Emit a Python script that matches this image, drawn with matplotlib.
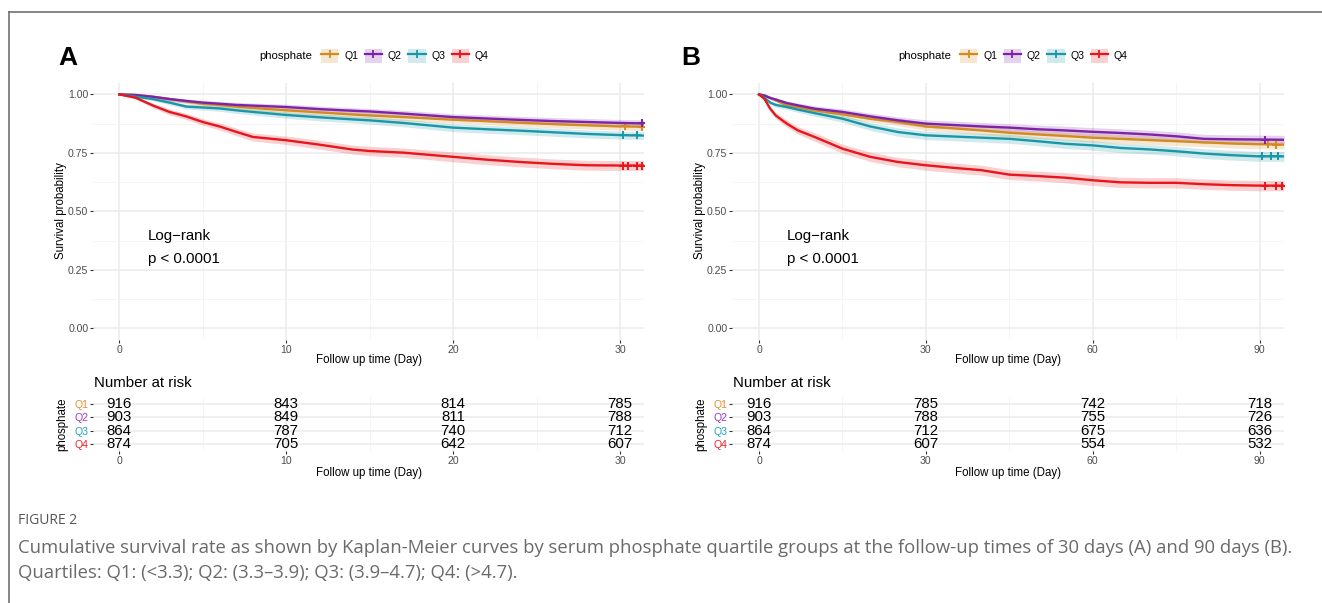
import numpy as np
import matplotlib
matplotlib.use("Agg")
import matplotlib.pyplot as plt
from matplotlib.patches import Patch
from matplotlib.lines import Line2D

plt.rcParams["font.family"] = ["Liberation Sans", "DejaVu Sans"]

W, H = 1322, 603

groups = ["Q1", "Q2", "Q3", "Q4"]
line_colors = ["#D18B1F", "#7E22A8", "#1A97A6", "#E8161C"]
label_colors = ["#E0902E", "#9A3BC0", "#1EA8B8", "#F0242B"]

# panel A: 30 day follow-up
a_time = [0, 1, 2, 3, 4, 5, 6, 7, 8, 10, 12, 14, 15, 17, 20, 22, 24, 26, 28, 30, 31.4]
a_surv = {
    "Q1": [1.0, 0.998, 0.99, 0.98, 0.97, 0.96, 0.955, 0.948, 0.942, 0.932, 0.923, 0.914, 0.91,
           0.903, 0.892, 0.886, 0.879, 0.873, 0.868, 0.863, 0.862],
    "Q2": [1.0, 0.997, 0.99, 0.98, 0.972, 0.965, 0.96, 0.955, 0.952, 0.946, 0.937, 0.93, 0.927,
           0.918, 0.903, 0.897, 0.891, 0.886, 0.882, 0.878, 0.876],
    "Q3": [1.0, 0.99, 0.98, 0.965, 0.948, 0.944, 0.94, 0.932, 0.925, 0.912, 0.902, 0.893, 0.889,
           0.878, 0.858, 0.851, 0.845, 0.838, 0.831, 0.826, 0.824],
    "Q4": [1.0, 0.985, 0.953, 0.925, 0.906, 0.882, 0.863, 0.84, 0.818, 0.804, 0.785, 0.764, 0.758,
           0.751, 0.733, 0.721, 0.711, 0.703, 0.697, 0.696, 0.696],
}
a_ci = {
    "Q1": [0, 0.004, 0.006, 0.008, 0.009, 0.010, 0.011, 0.012, 0.012, 0.013, 0.013, 0.014, 0.014,
           0.015, 0.015, 0.015, 0.016, 0.016, 0.016, 0.016, 0.016],
    "Q2": [0, 0.004, 0.006, 0.008, 0.009, 0.009, 0.010, 0.011, 0.011, 0.012, 0.013, 0.013, 0.013,
           0.014, 0.014, 0.015, 0.015, 0.015, 0.015, 0.015, 0.015],
    "Q3": [0, 0.005, 0.007, 0.009, 0.010, 0.011, 0.012, 0.013, 0.013, 0.014, 0.015, 0.015, 0.016,
           0.016, 0.017, 0.017, 0.017, 0.017, 0.017, 0.017, 0.017],
    "Q4": [0, 0.005, 0.010, 0.012, 0.013, 0.014, 0.015, 0.016, 0.017, 0.018, 0.019, 0.019, 0.020,
           0.020, 0.021, 0.021, 0.021, 0.021, 0.021, 0.021, 0.021],
}
a_censor = {"Q1": [30.3, 31.3], "Q2": [31.3], "Q3": [30.2, 31.0], "Q4": [30.2, 30.5, 31.0, 31.3]}
a_ticks = [0, 10, 20, 30]
a_minor = [5, 15, 25]
a_risk = {"Q1": [916, 843, 814, 785], "Q2": [903, 849, 811, 788],
          "Q3": [864, 787, 740, 712], "Q4": [874, 705, 642, 607]}

# panel B: 90 day follow-up
b_time = [0, 1, 2, 3, 5, 7, 10, 15, 20, 25, 30, 35, 40, 45, 50, 55, 60, 65, 70, 75, 80, 85, 90, 94.4]
b_surv = {
    "Q1": [1.0, 0.995, 0.985, 0.975, 0.953, 0.945, 0.932, 0.915, 0.896, 0.882, 0.863, 0.855, 0.846,
           0.836, 0.829, 0.822, 0.815, 0.81, 0.805, 0.8, 0.795, 0.79, 0.787, 0.785],
    "Q2": [1.0, 0.995, 0.985, 0.978, 0.963, 0.953, 0.939, 0.925, 0.906, 0.889, 0.875, 0.869, 0.863,
           0.858, 0.851, 0.846, 0.84, 0.835, 0.829, 0.821, 0.81, 0.808, 0.807, 0.806],
    "Q3": [1.0, 0.985, 0.965, 0.955, 0.946, 0.935, 0.92, 0.896, 0.863, 0.839, 0.825, 0.82, 0.815,
           0.81, 0.8, 0.789, 0.782, 0.771, 0.765, 0.757, 0.747, 0.74, 0.735, 0.735],
    "Q4": [1.0, 0.98, 0.939, 0.91, 0.875, 0.846, 0.818, 0.768, 0.733, 0.711, 0.697, 0.686, 0.676,
           0.657, 0.651, 0.644, 0.633, 0.624, 0.622, 0.622, 0.616, 0.612, 0.61, 0.61],
}
b_ci = {
    "Q1": [0, 0.004, 0.006, 0.008, 0.010, 0.011, 0.013, 0.014, 0.015, 0.016, 0.017, 0.017, 0.018,
           0.018, 0.018, 0.018, 0.019, 0.019, 0.019, 0.019, 0.019, 0.019, 0.019, 0.019],
    "Q2": [0, 0.004, 0.006, 0.008, 0.009, 0.010, 0.012, 0.013, 0.014, 0.015, 0.016, 0.017, 0.017,
           0.017, 0.018, 0.018, 0.018, 0.018, 0.018, 0.019, 0.019, 0.019, 0.019, 0.019],
    "Q3": [0, 0.005, 0.008, 0.009, 0.010, 0.012, 0.013, 0.015, 0.017, 0.018, 0.018, 0.018, 0.019,
           0.019, 0.019, 0.020, 0.020, 0.020, 0.020, 0.020, 0.021, 0.021, 0.021, 0.021],
    "Q4": [0, 0.006, 0.010, 0.013, 0.015, 0.016, 0.018, 0.019, 0.020, 0.020, 0.021, 0.021, 0.021,
           0.021, 0.021, 0.022, 0.022, 0.022, 0.022, 0.022, 0.022, 0.022, 0.022, 0.022],
}
b_censor = {"Q1": [91.5, 93.0], "Q2": [91.0], "Q3": [90.5, 92.0, 93.3], "Q4": [91.0, 93.0, 94.0]}
b_ticks = [0, 30, 60, 90]
b_minor = [15, 45, 75]
b_risk = {"Q1": [916, 785, 742, 718], "Q2": [903, 788, 755, 726],
          "Q3": [864, 712, 675, 636], "Q4": [874, 607, 554, 532]}

grid_major = "#EBEBEB"
grid_minor = "#F4F4F4"
tick_col = "#4D4D4D"


def fbox(l, t, r, b):
    return [l / W, 1 - b / H, (r - l) / W, (b - t) / H]


def ftext(x, y, s, **kw):
    fig.text(x / W, 1 - y / H, s, **kw)


def style_axes(ax, ticks, minor, xlim):
    ax.set_xlim(*xlim)
    ax.set_xticks(ticks)
    ax.set_xticks(minor, minor=True)
    for sp in ax.spines.values():
        sp.set_visible(False)
    ax.grid(True, which="major", color=grid_major, lw=1.1)
    ax.grid(True, which="minor", color=grid_minor, lw=0.6)
    ax.set_axisbelow(True)
    ax.tick_params(which="major", length=2.2, width=0.8, color="#333333", pad=1.2,
                   labelsize=7.6, labelcolor=tick_col)
    ax.tick_params(which="minor", length=0)


def draw_panel(left, right, xlim, time, surv, ci, censor, ticks, minor, risk, letter, dx):
    ax = fig.add_axes(fbox(left, 82.7, right, 340))
    style_axes(ax, ticks, minor, xlim)
    ax.set_ylim(-0.05, 1.05)
    ax.set_yticks([0, 0.25, 0.5, 0.75, 1.0])
    ax.set_yticklabels(["0.00", "0.25", "0.50", "0.75", "1.00"])
    ax.set_yticks([0.125, 0.375, 0.625, 0.875], minor=True)
    t = np.array(time)
    for g, c in zip(groups, line_colors):
        s = np.array(surv[g])
        h = np.array(ci[g])
        ax.fill_between(t, s - h, s + h, color=c, alpha=0.2, lw=0)
    for g, c in zip(groups, line_colors):
        s = np.array(surv[g])
        ax.plot(t, s, color=c, lw=1.7, solid_joinstyle="round")
        ct = np.array(censor[g])
        ax.plot(ct, np.interp(ct, t, s), ls="none", marker="+", color=c, ms=6, mew=1.4)

    # log-rank text
    tx = xlim[0] + (xlim[1] - xlim[0]) * (148 + dx - left) / (right - left)
    ax.text(tx, 0.395, "Log\u2212rank", fontsize=10.8, va="center", ha="left")
    ax.text(tx, 0.295, "p < 0.0001", fontsize=10.8, va="center", ha="left")

    cx = (left + right) / 2
    ftext(cx, 360, "Follow up time (Day)", fontsize=8.3, ha="center", va="center")
    ftext(61 + dx, 211, "Survival probability", fontsize=8.3, rotation=90, ha="center", va="center")

    # legend
    ftext(259 + dx, 56, "phosphate", fontsize=8.2, ha="left", va="center")
    handles = [(Patch(facecolor=c, alpha=0.2, edgecolor="none"),
                Line2D([], [], color=c, lw=1.6, marker="+", ms=6, mew=1.3)) for c in line_colors]
    fig.legend(handles, groups, loc="center left", bbox_to_anchor=((321 + dx) / W, 1 - 56 / H),
               ncol=4, frameon=False, fontsize=7.6, borderpad=0, borderaxespad=0,
               handlelength=1.65, handleheight=1.65, handletextpad=0.55, columnspacing=0.6)

    ftext(68 + dx * 0.975, 58, letter, fontsize=19, fontweight="bold", ha="center", va="center")

    # number at risk table
    tb = fig.add_axes(fbox(left, 397.3, right, 451))
    style_axes(tb, ticks, minor, xlim)
    tb.set_ylim(3.5, -0.5)
    tb.set_yticks(range(4))
    tb.set_yticklabels(groups)
    for lab, c in zip(tb.get_yticklabels(), label_colors):
        lab.set_color(c)
    for i, g in enumerate(groups):
        for tt, n in zip(ticks, risk[g]):
            tb.text(tt, i, str(n), fontsize=10.8, ha="center", va="center")
    ftext(left + 1, 383, "Number at risk", fontsize=10.8, ha="left", va="center")
    ftext(cx, 473, "Follow up time (Day)", fontsize=8.3, ha="center", va="center")
    ftext(62 + dx, 424, "phosphate", fontsize=8.3, rotation=90, ha="center", va="center")


fig = plt.figure(figsize=(W / 100, H / 100), dpi=100)

draw_panel(93, 644, (-1.58, 31.44), a_time, a_surv, a_ci, a_censor, a_ticks, a_minor, a_risk, "A", 0)
draw_panel(732, 1284, (-4.86, 94.4), b_time, b_surv, b_ci, b_censor, b_ticks, b_minor, b_risk, "B", 639)

# outer frame (top and left rules)
fig.add_artist(Line2D([9 / W, 9 / W], [0, 1 - 12 / H], transform=fig.transFigure, color="#666666", lw=1.1))
fig.add_artist(Line2D([9 / W, 1], [1 - 12 / H, 1 - 12 / H], transform=fig.transFigure, color="#666666", lw=1.1))

# caption
cap_font = "Open Sans"
ftext(18, 521, "FIGURE 2", fontsize=10, color="#555555", family=cap_font, ha="left", va="center")
ftext(18, 548, "Cumulative survival rate as shown by Kaplan-Meier curves by serum phosphate quartile "
      "groups at the follow-up times of 30 days (A) and 90 days (B).",
      fontsize=13.3, color="#6A6A6A", family=cap_font, ha="left", va="center")
ftext(18, 573, "Quartiles: Q1: (<3.3); Q2: (3.3\u20133.9); Q3: (3.9\u20134.7); Q4: (>4.7).",
      fontsize=13.3, color="#6A6A6A", family=cap_font, ha="left", va="center")

fig.savefig("out.png", dpi=100)
